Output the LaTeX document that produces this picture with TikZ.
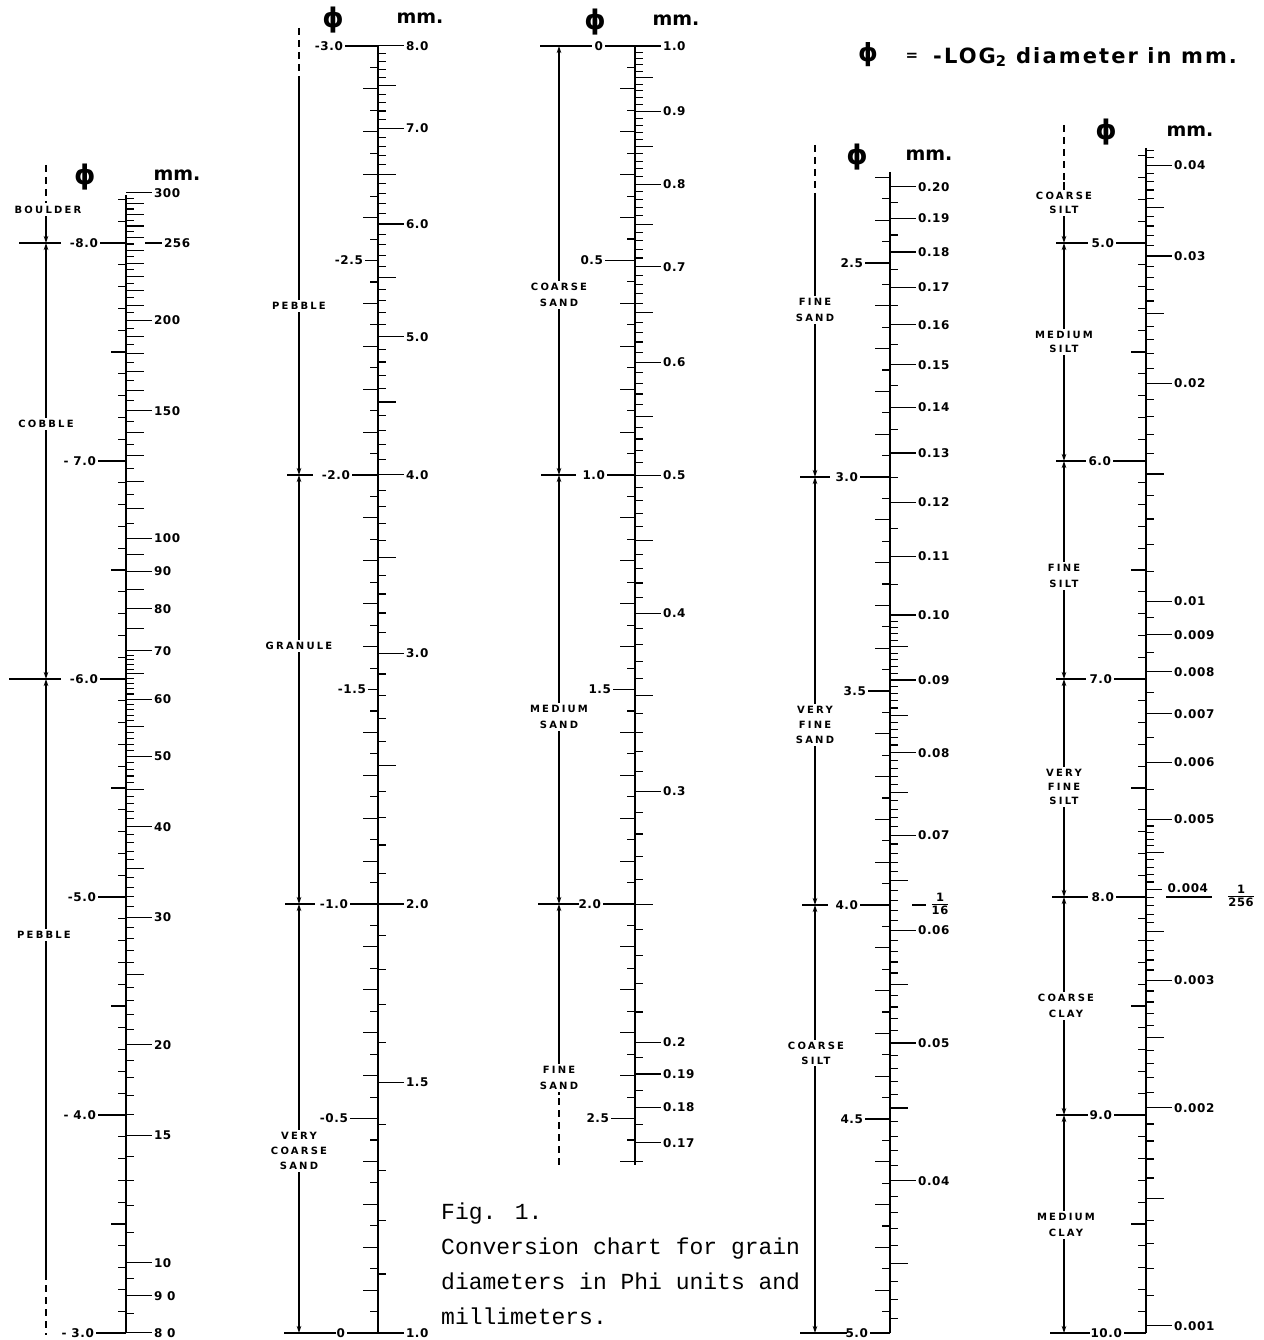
\documentclass[tikz,border=0pt]{standalone}
\usepackage{fontspec}
\usetikzlibrary{arrows.meta}
\newfontfamily\lblfont[LetterSpace=22]{DejaVu Sans}
\newfontfamily\numfont[LetterSpace=5]{DejaVu Sans}
\newfontfamily\ttlfont[LetterSpace=10]{DejaVu Sans}
\newfontfamily\hdfont{DejaVu Sans}
\newfontfamily\capfont{Liberation Mono}
\newcount\nc
\newcommand\setcol[5]{\def\cax{#1}\def\cyo{#2}\def\cpo{#3}\def\csc{#4}\def\cvx{#5}}
\newcommand\ymm[2]{\pgfmathsetmacro\yy{\cyo+((ln(#2)-ln(#1))/ln(2)-(\cpo))*\csc}}
\newcommand\yph[1]{\pgfmathsetmacro\yy{\cyo+((#1)-(\cpo))*\csc}}
\newcommand\mmtick[3]{\ymm{#1}{#2}\draw[tk] (\cax,\yy) -- ++(#3,0);}
\newcommand\mmlab[3]{\ymm{#1}{#2}\global\advance\nc by1 \draw[tk] (\cax,\yy) -- ++(26,0) node[num,anchor=west,name=r\the\nc]{#3};}
\newcommand\phtick[2]{\yph{#1}\draw[tk] (\cax,\yy) -- ++(-#2,0);}
\newcommand\phlab[3]{\yph{#1}\global\advance\nc by1 \draw[tk] (\cax,\yy) -- ++(-#3,0) node[num,anchor=east,name=l\the\nc]{#2};}
\newcommand\crossat[3]{\yph{#1}\draw[tk] (\cvx-#2,\yy) -- (\cvx+#3,\yy);}
\newcommand\cseg[3]{\draw[cl,#3] (\cvx,#1) -- (\cvx,#2);}
\newcommand\cdash[2]{\draw[cl,dash pattern=on 7pt off 5pt] (\cvx,#1) -- (\cvx,#2);}
\newcommand\clab[3]{\global\advance\nc by1 \node[cls,name=c\the\nc] at (#1,#2) {#3};}
\newcommand\phloop[5]{\foreach \k in {#1,...,#2}{\pgfmathtruncatemacro\ra{mod(abs(\k),#4)}\pgfmathtruncatemacro\rb{mod(abs(\k),#5)}\ifnum\ra=0 \else\ifnum\rb=0 \phtick{\k/#3}{15}\else\phtick{\k/#3}{8}\fi\fi}}
\newcommand\mmloop[2]{\foreach \i in {#1}{\pgfmathtruncatemacro\rr{mod(\i,10)}\pgfmathtruncatemacro\rf{mod(\i,5)}\ifnum\rr=0 \else\ifnum\rf=0 \mmtick{\i}{#2}{18}\else\mmtick{\i}{#2}{8}\fi\fi}}
\newcommand\fracnode[4]{\node[num,inner sep=0pt,name=#1] at (#2) {\fontsize{11.5}{12}\selectfont\renewcommand\arraystretch{0.9}\setlength\arrayrulewidth{1.1pt}\begin{tabular}{@{}c@{}}#3\\\hline #4\end{tabular}};}
\begin{document}
\begin{tikzpicture}[x=1pt,y=-1pt,
  tk/.style={line width=1.1pt},
  ax/.style={line width=1.7pt},
  cl/.style={line width=1.1pt},
  >={Stealth[length=7pt,width=4.5pt]},
  num/.style={font=\numfont\bfseries\fontsize{12}{13}\selectfont, inner sep=1.5pt},
  cls/.style={font=\lblfont\bfseries\fontsize{10}{16}\selectfont, align=center, fill=white, inner sep=2pt},
  hphi/.style={font=\hdfont\bfseries\fontsize{27}{30}\selectfont},
  hmm/.style={font=\hdfont\bfseries\fontsize{19}{20}\selectfont},
  captxt/.style={font=\capfont\fontsize{23}{24}\selectfont, anchor=base west, inner sep=0pt}]
\fill[white] (0,0) rectangle (1263,1340);
\useasboundingbox (0,0) rectangle (1263,1340);

% ================= Column 1 =================
\setcol{126}{243}{-8}{218}{46}
\draw[ax] (126,195) -- (126,1333);
\phloop{-82}{-31}{10}{10}{5}
\foreach \i in {105,115,...,295} {\mmtick{\i}{1}{8}}
\foreach \i in {110,120,...,290} {\mmtick{\i}{1}{18}}
\foreach \i in {75,85,95} {\mmtick{\i}{1}{18}}
\mmloop{11,...,69}{1}
\mmtick{85}{10}{8}\mmtick{95}{10}{8}
\mmlab{300}{1}{300}
\draw[tk] (145,243) -- (162,243) node[num,anchor=west,name=r256]{256};
\mmlab{200}{1}{200}\mmlab{150}{1}{150}\mmlab{100}{1}{100}
\mmlab{90}{1}{90}\mmlab{80}{1}{80}\mmlab{70}{1}{70}\mmlab{60}{1}{60}
\mmlab{50}{1}{50}\mmlab{40}{1}{40}\mmlab{30}{1}{30}\mmlab{20}{1}{20}
\mmlab{15}{1}{15}\mmlab{10}{1}{10}\mmlab{9}{1}{9 0}\mmlab{8}{1}{8 0}
\phlab{-8}{-8.0}{26}\phlab{-7}{- 7.0}{28}\phlab{-6}{-6.0}{26}
\phlab{-5}{-5.0}{28}\phlab{-4}{- 4.0}{28}\phlab{-3}{- 3.0}{30}
\crossat{-8}{27}{15}\crossat{-6}{37}{15}
\cdash{165}{203}\cseg{205}{243}{->}\cseg{243}{679}{<->}\cseg{679}{1280}{<-}
\cdash{1285}{1335}
\clab{48}{210}{BOULDER}\clab{46}{424}{COBBLE}\clab{44}{935}{PEBBLE}
\node[hphi,name=h1p] at (85,177) {ϕ};
\node[hmm,name=h1m] at (177,175) {mm.};

% ================= Column 2 =================
\setcol{378}{46}{-3}{429}{299}
\draw[ax] (378,46) -- (378,1333);
\phloop{-59}{-1}{20}{10}{2}
\mmloop{11,...,79}{10}
\mmlab{80}{10}{8.0}\mmlab{70}{10}{7.0}\mmlab{60}{10}{6.0}\mmlab{50}{10}{5.0}
\mmlab{40}{10}{4.0}\mmlab{30}{10}{3.0}\mmlab{20}{10}{2.0}\mmlab{15}{10}{1.5}
\mmlab{10}{10}{1.0}
\phlab{-3}{-3.0}{33}\phlab{-2.5}{-2.5}{13}\phlab{-2}{-2.0}{26}\phlab{-1.5}{-1.5}{10}
\phlab{-1}{-1.0}{28}\phlab{-0.5}{-0.5}{28}\phlab{0}{0}{31}
\crossat{-2}{12}{14}\crossat{-1}{14}{16}\crossat{0}{15}{37}
\cdash{28}{82}\cseg{82}{475}{->}\cseg{475}{904}{<->}\cseg{904}{1333}{<->}
\clab{299}{306}{PEBBLE}\clab{299}{646}{GRANULE}
\clab{299}{1151}{VERY\\[-1pt]COARSE\\[-1pt]SAND}
\node[hphi,name=h2p] at (333,20) {ϕ};
\node[hmm,name=h2m] at (420,18) {mm.};

% ================= Column 3 =================
\setcol{635}{46}{0}{429}{559}
\draw[ax] (635,46) -- (635,1165);
\phloop{1}{52}{20}{10}{2}
\mmloop{21,...,99}{100}
\foreach \i in {165,175,185,195} {\mmtick{\i}{1000}{8}}
\mmlab{100}{100}{1.0}\mmlab{90}{100}{0.9}\mmlab{80}{100}{0.8}\mmlab{70}{100}{0.7}
\mmlab{60}{100}{0.6}\mmlab{50}{100}{0.5}\mmlab{40}{100}{0.4}\mmlab{30}{100}{0.3}
\mmlab{20}{100}{0.2}\mmlab{19}{100}{0.19}\mmlab{18}{100}{0.18}\mmlab{17}{100}{0.17}
\phlab{0}{0}{30}\phlab{0.5}{0.5}{30}\phlab{1}{1.0}{28}\phlab{1.5}{1.5}{22}
\phlab{2}{2.0}{32}\phlab{2.5}{2.5}{24}
\crossat{0}{19}{33}\crossat{1}{18}{17}\crossat{2}{21}{20}
\cseg{46}{475}{<->}\cseg{475}{904}{<->}\cseg{904}{1095}{<-}\cdash{1098}{1165}
\clab{559}{295}{COARSE\\SAND}\clab{559}{717}{MEDIUM\\SAND}\clab{559}{1078}{FINE\\SAND}
\node[hphi,name=h3p] at (595,22) {ϕ};
\node[hmm,name=h3m] at (676,20) {mm.};

% ================= Column 4 =================
\setcol{890}{477}{3}{428}{815}
\draw[ax] (890,172) -- (890,1333);
\phloop{46}{99}{20}{10}{2}
\foreach \i in {105,115,...,195} {\mmtick{\i}{1000}{8}}
\mmloop{41,...,99}{1000}
\foreach \i in {32,33,34,36,37,38,39} {\mmtick{\i}{1000}{8}}
\mmtick{35}{1000}{18}
\mmlab{20}{100}{0.20}\mmlab{19}{100}{0.19}\mmlab{18}{100}{0.18}\mmlab{17}{100}{0.17}
\mmlab{16}{100}{0.16}\mmlab{15}{100}{0.15}\mmlab{14}{100}{0.14}\mmlab{13}{100}{0.13}
\mmlab{12}{100}{0.12}\mmlab{11}{100}{0.11}\mmlab{10}{100}{0.10}\mmlab{9}{100}{0.09}
\mmlab{8}{100}{0.08}\mmlab{7}{100}{0.07}\mmlab{6}{100}{0.06}\mmlab{5}{100}{0.05}
\mmlab{4}{100}{0.04}
\draw[tk] (912,905) -- (926,905);
\fracnode{f16}{940,905}{1}{16}
\phlab{2.5}{2.5}{25}\phlab{3}{3.0}{30}\phlab{3.5}{3.5}{22}\phlab{4}{4.0}{30}
\phlab{4.5}{4.5}{25}\phlab{5}{5.0}{20}
\crossat{3}{15}{15}\crossat{4}{13}{13}\crossat{5}{15}{32}
\cdash{145}{200}\cseg{200}{477}{->}\cseg{477}{905}{<->}\cseg{905}{1333}{<->}
\clab{815}{310}{FINE\\SAND}\clab{815}{725}{VERY\\[-1pt]FINE\\[-1pt]SAND}
\clab{816}{1053}{COARSE\\[-1pt]SILT}
\node[hphi,name=h4p] at (857,157) {ϕ};
\node[hmm,name=h4m] at (929,155) {mm.};

% ================= Column 5 =================
\setcol{1146}{243}{5}{218}{1064}
\draw[ax] (1146,148) -- (1146,1333);
\phloop{46}{99}{10}{10}{5}
\mmloop{11,...,42}{1000}
\foreach \i in {55,65,75,85,95} {\mmtick{\i}{10000}{8}}
\mmloop{11,...,49}{10000}
\mmlab{40}{1000}{0.04}\mmlab{30}{1000}{0.03}\mmlab{20}{1000}{0.02}\mmlab{10}{1000}{0.01}
\mmlab{90}{10000}{0.009}\mmlab{80}{10000}{0.008}\mmlab{70}{10000}{0.007}
\mmlab{60}{10000}{0.006}\mmlab{50}{10000}{0.005}
\ymm{40}{10000}\draw[tk] (1146,\yy) -- ++(16,0);
\node[num,anchor=base west,name=r0004] at (1166,892) {0.004};
\draw[tk] (1166,897) -- (1212,897);
\fracnode{f256}{1241,897}{1}{256}
\mmlab{30}{10000}{0.003}\mmlab{20}{10000}{0.002}\mmlab{10}{10000}{0.001}
\phlab{5}{5.0}{30}\phlab{6}{6.0}{33}\phlab{7}{7.0}{32}\phlab{8}{8.0}{30}
\phlab{9}{9.0}{32}\phlab{10}{10.0}{22}
\crossat{5}{8}{24}\crossat{6}{8}{22}\crossat{7}{8}{22}\crossat{8}{12}{24}
\crossat{9}{8}{24}\crossat{10}{14}{26}
\cdash{125}{180}\cseg{182}{243}{->}\cseg{243}{461}{<->}\cseg{461}{679}{<->}
\cseg{679}{897}{<->}\cseg{897}{1115}{<->}\cseg{1115}{1333}{<->}
\clab{1064}{203}{COARSE\\[-2pt]SILT}\clab{1064}{342}{MEDIUM\\[-2pt]SILT}
\clab{1064}{576}{FINE\\SILT}\clab{1064}{787}{VERY\\[-2pt]FINE\\[-2pt]SILT}
\clab{1066}{1006}{COARSE\\CLAY}\clab{1066}{1225}{MEDIUM\\CLAY}
\node[hphi,name=h5p] at (1106,132) {ϕ};
\node[hmm,name=h5m] at (1190,131) {mm.};

% ================= Title =================
\node[font=\hdfont\bfseries\fontsize{25}{28}\selectfont,name=tphi] at (868,55) {ϕ};
\node[font=\hdfont\bfseries\fontsize{15}{16}\selectfont,name=teq] at (912,57) {=};
\node[anchor=west,inner sep=0pt,font=\ttlfont\bfseries\fontsize{21}{22}\selectfont,name=ttl] at (933,57) {-LOG\textsubscript{2} diameter in mm.};

% ================= Caption =================
\node[captxt,name=cap1] at (441,1219) {Fig. 1.};
\node[captxt,name=cap2] at (441,1254) {Conversion chart for grain};
\node[captxt,name=cap3] at (441,1289) {diameters in Phi units and};
\node[captxt,name=cap4] at (441,1324) {millimeters.};
\end{tikzpicture}
\end{document}
